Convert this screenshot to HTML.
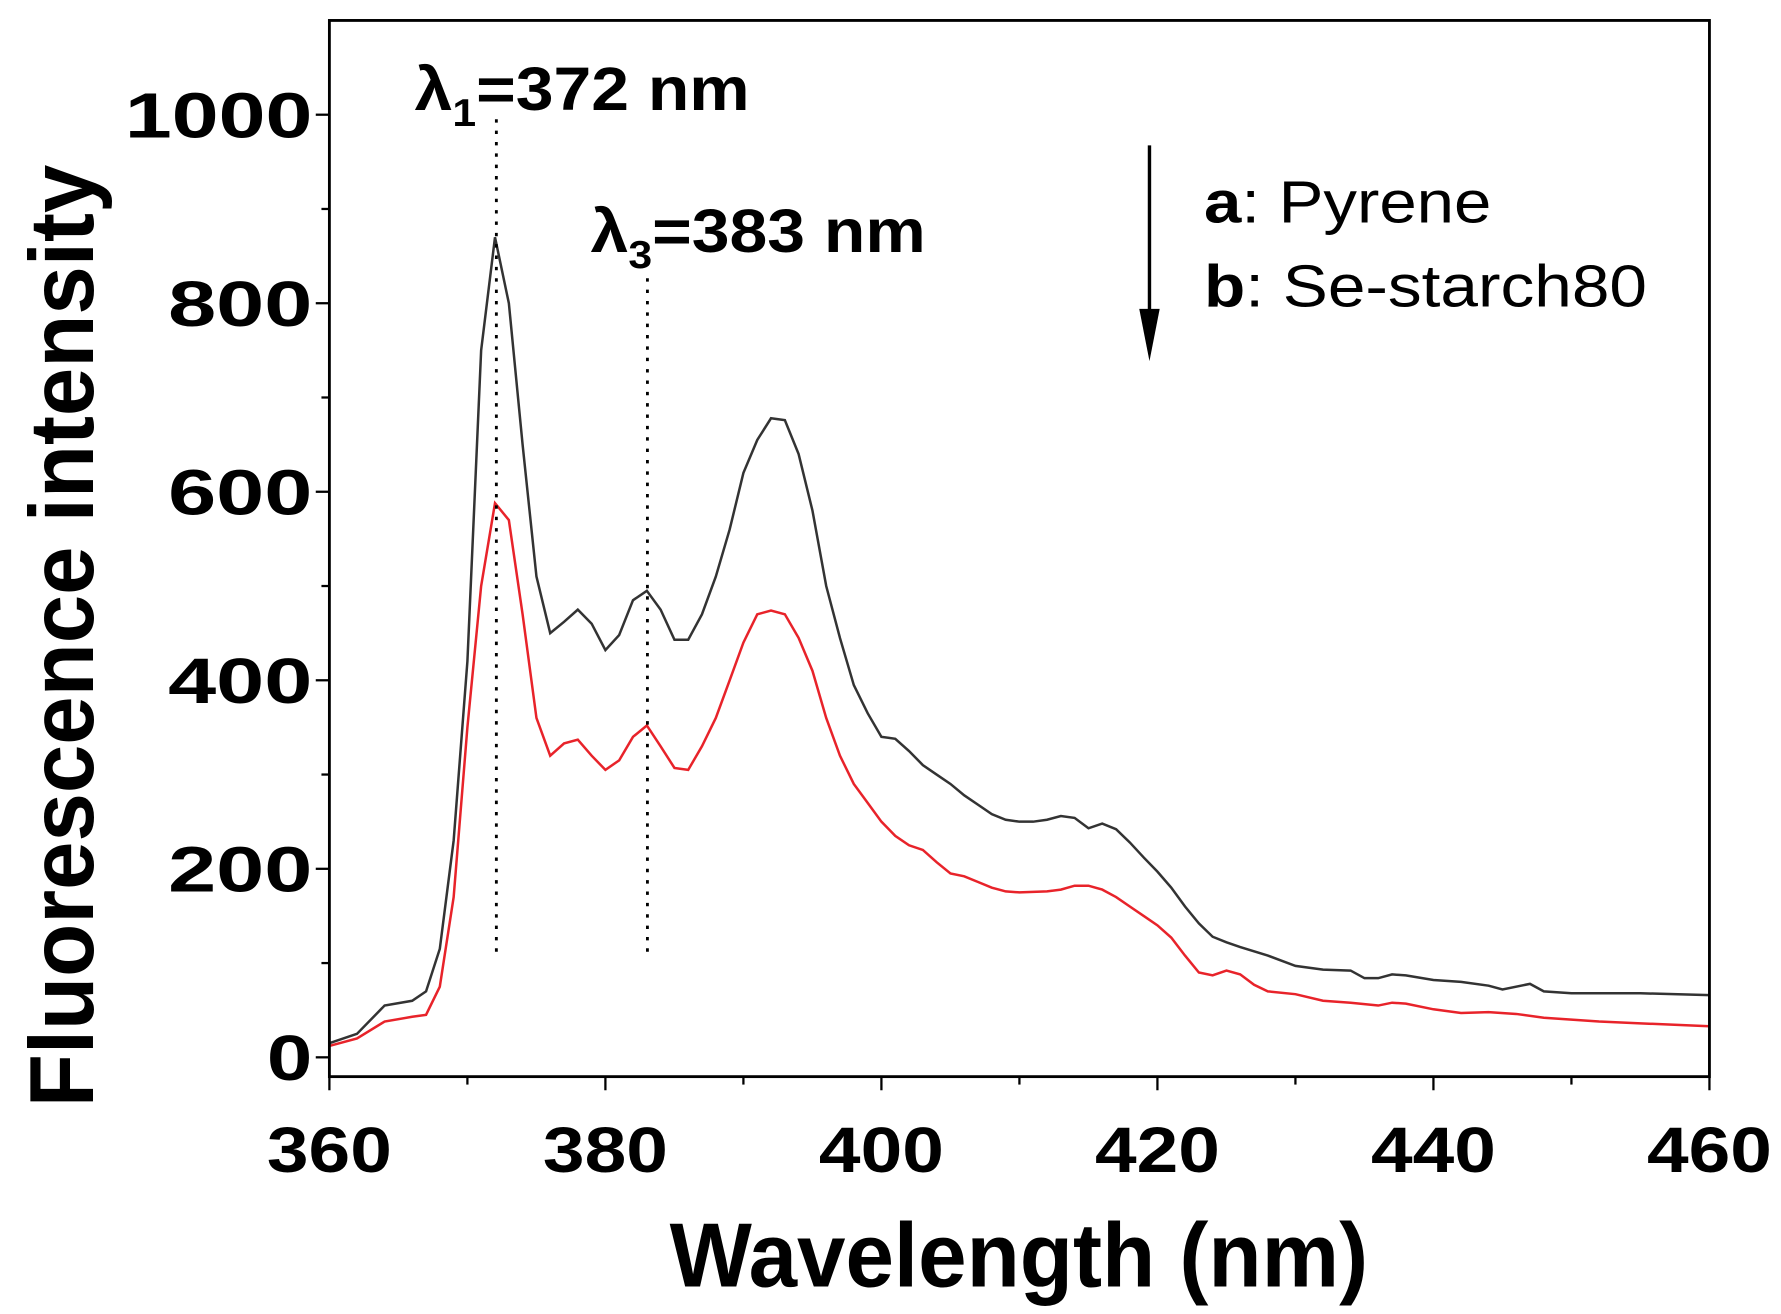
<!DOCTYPE html>
<html><head><meta charset="utf-8"><style>html,body{margin:0;padding:0;background:#fff}svg{display:block}</style></head>
<body>
<svg id="s" width="1781" height="1314" viewBox="0 0 1568 1157" preserveAspectRatio="none" xmlns="http://www.w3.org/2000/svg" font-family="'Liberation Sans', Arial, sans-serif">
<rect x="0" y="0" width="1568" height="1157" fill="#fff"/>
<g id="ticks" stroke="#000" stroke-width="2"></g>
<path id="pa" fill="none" stroke="#333" stroke-width="2.2"/>
<path id="pb" fill="none" stroke="#e8232a" stroke-width="2.2"/>
<line x1="437" y1="105" x2="437" y2="842" stroke="#000" stroke-width="2.5" stroke-dasharray="3,7"/>
<line x1="570" y1="245" x2="570" y2="838" stroke="#000" stroke-width="2.5" stroke-dasharray="3,7"/>
<rect x="290" y="18" width="1215" height="930" fill="none" stroke="#000" stroke-width="2.5"/>
<g font-weight="bold" font-size="56" text-anchor="end" id="yl"></g>
<g font-weight="bold" font-size="56" text-anchor="middle" id="xl"></g>
<text x="365" y="97" font-weight="bold" font-size="54" textLength="295" lengthAdjust="spacingAndGlyphs">λ<tspan font-size="34" dy="14">1</tspan><tspan dy="-14">=372 nm</tspan></text>
<text x="520" y="222" font-weight="bold" font-size="54" textLength="295" lengthAdjust="spacingAndGlyphs">λ<tspan font-size="34" dy="14">3</tspan><tspan dy="-14">=383 nm</tspan></text>
<line x1="1012" y1="128" x2="1012" y2="300" stroke="#000" stroke-width="3"/>
<polygon points="1003,272 1021,272 1012,318" fill="#000"/>
<text x="1060" y="196" font-size="52" textLength="253" lengthAdjust="spacingAndGlyphs"><tspan font-weight="bold">a</tspan>: Pyrene</text>
<text x="1060" y="270" font-size="52" textLength="390" lengthAdjust="spacingAndGlyphs"><tspan font-weight="bold">b</tspan>: Se-starch80</text>
<text x="897" y="1133" font-weight="bold" font-size="80" text-anchor="middle" textLength="615" lengthAdjust="spacingAndGlyphs">Wavelength (nm)</text>
<text transform="translate(82,560) rotate(-90)" font-weight="bold" font-size="80" text-anchor="middle" textLength="830" lengthAdjust="spacingAndGlyphs">Fluorescence intensity</text>
</svg>
<script>
var X=function(n){return 290+12.15*(n-360)},Y=function(v){return 931-0.83*v};
var A=[360,15,362,25,364,55,366,60,367,70,368,115,369,230,370,420,371,750,372,870,373,800,374,650,375,510,376,450,377,462,378,475,379,460,380,432,381,448,382,485,383,495,384,475,385,443,386,443,387,470,388,510,389,560,390,620,391,655,392,678,393,676,394,640,395,580,396,500,397,445,398,395,399,365,400,340,401,338,402,325,403,310,404,300,405,290,406,278,407,268,408,258,409,252,410,250,411,250,412,252,413,256,414,254,415,243,416,248,417,242,418,228,419,212,420,197,421,180,422,160,423,142,424,128,425,122,426,117,428,108,430,97,432,93,434,92,435,84,436,84,437,88,438,87,440,82,442,80,444,76,445,72,447,78,448,70,450,68,455,68,460,66];
var B=[360,12,362,20,364,38,366,43,367,45,368,75,369,170,370,350,371,500,372,588,373,570,374,470,375,360,376,320,377,333,378,337,379,320,380,305,381,315,382,340,383,352,384,330,385,307,386,305,387,330,388,360,389,400,390,440,391,470,392,474,393,470,394,445,395,410,396,360,397,320,398,290,399,270,400,250,401,235,402,225,403,220,404,207,405,195,406,192,407,186,408,180,409,176,410,175,412,176,413,178,414,182,415,182,416,178,417,170,418,160,419,150,420,140,421,127,422,108,423,90,424,87,425,92,426,88,427,77,428,70,430,67,432,60,434,58,436,55,437,58,438,57,440,51,442,47,444,48,446,46,448,42,450,40,452,38,455,36,460,33];
function p(d){var s="";for(var i=0;i<d.length;i+=2)s+=(i?"L":"M")+X(d[i]).toFixed(1)+","+Y(d[i+1]).toFixed(1);return s}
document.getElementById("pa").setAttribute("d",p(A));
document.getElementById("pb").setAttribute("d",p(B));
var ns="http://www.w3.org/2000/svg",t=document.getElementById("ticks"),yl=document.getElementById("yl"),xl=document.getElementById("xl");
function L(a,b,c,d){var l=document.createElementNS(ns,"line");l.setAttribute("x1",a);l.setAttribute("y1",b);l.setAttribute("x2",c);l.setAttribute("y2",d);t.appendChild(l)}
function T(g,x,y,s,w){var e=document.createElementNS(ns,"text");e.setAttribute("x",x);e.setAttribute("y",y);e.setAttribute("textLength",w);e.setAttribute("lengthAdjust","spacingAndGlyphs");e.textContent=s;g.appendChild(e)}
for(var v=0;v<=1000;v+=100){var y=Y(v);L(290,y,v%200?283:278,y);if(v%200==0)T(yl,275,y+20,v,v>=1000?165:(v>0?127:40))}
for(var n=360;n<=460;n+=10){var x=X(n);L(x,948,x,n%20?955:960);if(n%20==0)T(xl,x,1032,n,110)}
</script>
</body></html>
